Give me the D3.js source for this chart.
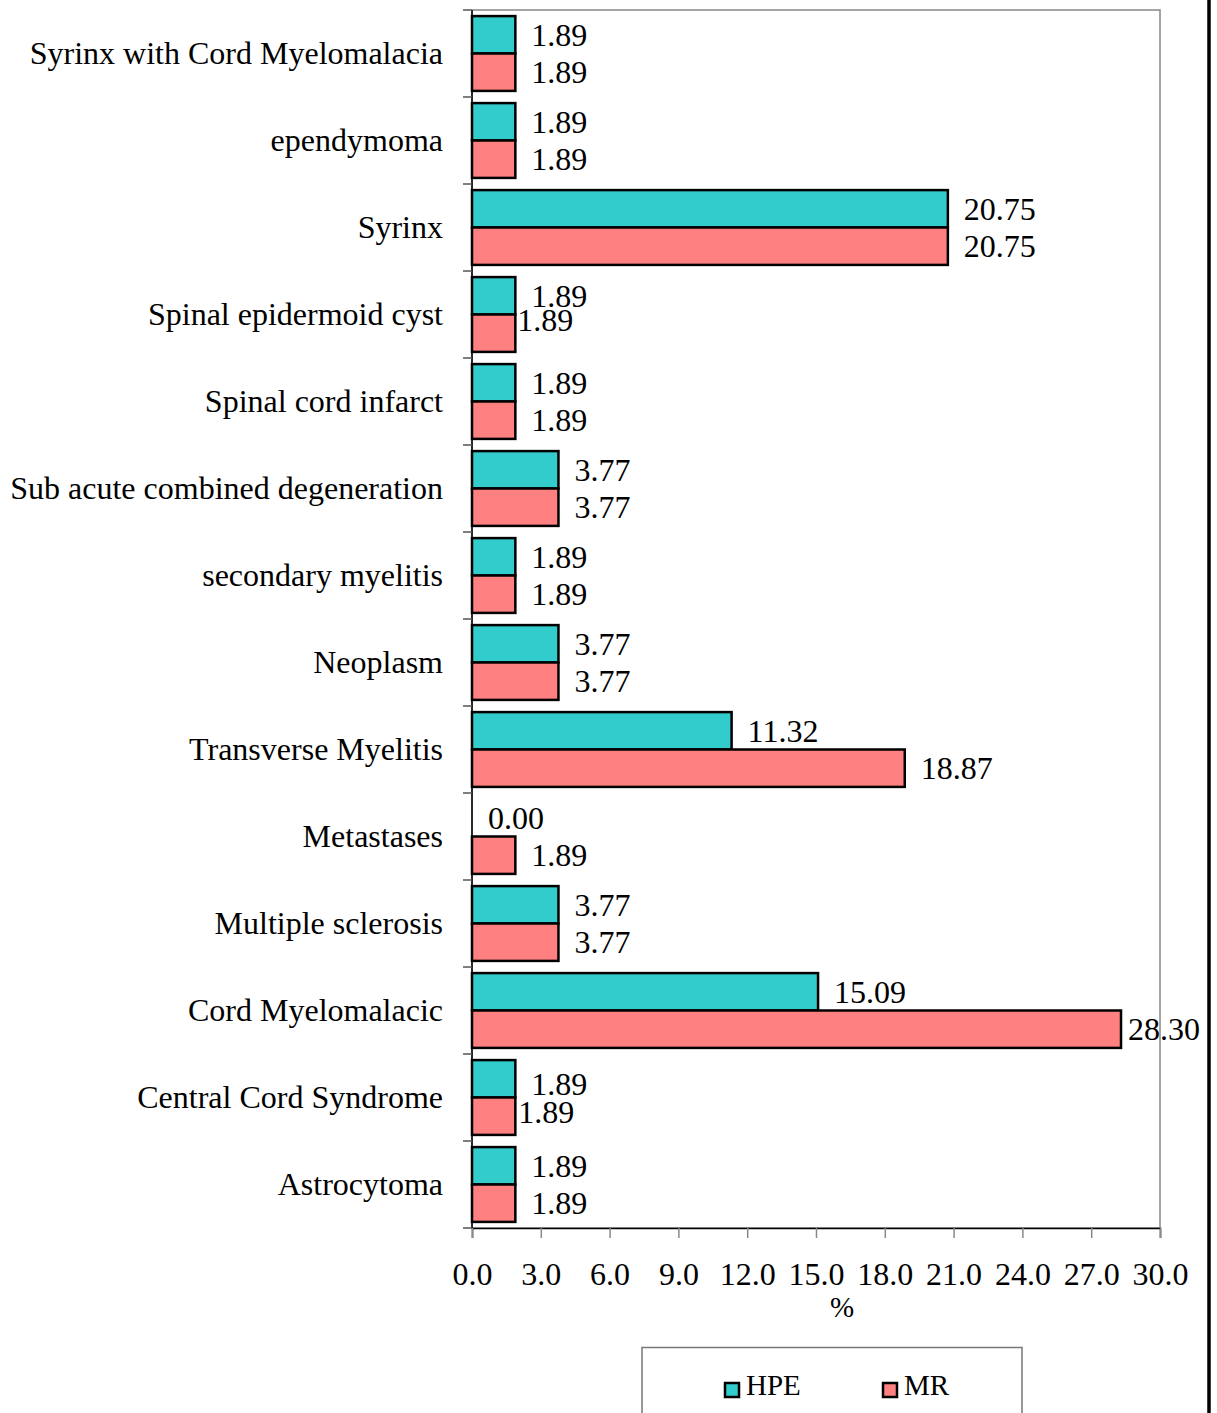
<!DOCTYPE html>
<html><head><meta charset="utf-8">
<script src="https://cdn.jsdelivr.net/npm/d3@7"></script>
<style>html,body{margin:0;padding:0;background:#fff;}svg{display:block;}</style>
</head><body>
<script>
const categories = ["Syrinx with Cord Myelomalacia","ependymoma","Syrinx","Spinal epidermoid cyst","Spinal cord infarct","Sub acute combined degeneration","secondary myelitis","Neoplasm","Transverse Myelitis","Metastases","Multiple sclerosis","Cord Myelomalacic","Central Cord Syndrome","Astrocytoma"];
const hpe = [1.89,1.89,20.75,1.89,1.89,3.77,1.89,3.77,11.32,0.00,3.77,15.09,1.89,1.89];
const mr  = [1.89,1.89,20.75,1.89,1.89,3.77,1.89,3.77,18.87,1.89,3.77,28.30,1.89,1.89];
const seriesNames = ["HPE","MR"];
const seriesColors = ["#33CCCC","#FF8080"];
const xTicks = [0,3,6,9,12,15,18,21,24,27,30];
// manual label nudges (category index, series index, dx, dy)
const labelNudges = [[3,1,-14,-13],[12,0,0,5],[12,1,-13,-4],[11,1,-9,0]];

const W=1217,H=1413;
const margin={left:472,right:57,top:10,bottom:185};
const FONT="'Liberation Serif','Times New Roman',serif";
const svg=d3.select("body").append("svg").attr("width",W).attr("height",H)
  .style("font-family",FONT);

const x=d3.scaleLinear().domain([0,30]).range([margin.left,W-margin.right]);
const y=d3.scaleBand().domain(categories).range([margin.top,H-margin.bottom]).paddingInner(0.14).paddingOuter(0.07);
const ySub=d3.scaleBand().domain(seriesNames).range([0,y.bandwidth()]);
const step=y.step();

// plot border
svg.append("rect").attr("x",x(0)).attr("y",margin.top).attr("width",x(30)-x(0)).attr("height",H-margin.bottom-margin.top)
  .attr("fill","none").attr("stroke","#888").attr("stroke-width",1.5);

// bars
const data=[];
categories.forEach((c,i)=>{[hpe,mr].forEach((arr,s)=>data.push({c,i,s,v:arr[i]}));});
svg.selectAll("rect.bar").data(data.filter(d=>d.v>0)).join("rect").attr("class","bar")
  .attr("x",x(0)).attr("y",d=>y(d.c)+ySub(seriesNames[d.s]))
  .attr("width",d=>x(d.v)-x(0)).attr("height",ySub.bandwidth())
  .attr("fill",d=>seriesColors[d.s]).attr("stroke","#000").attr("stroke-width",2.5);

// value labels
svg.selectAll("text.val").data(data).join("text").attr("class","val")
  .attr("x",d=>{const n=labelNudges.find(a=>a[0]===d.i&&a[1]===d.s);return x(d.v)+16+(n?n[2]:0);})
  .attr("y",d=>{const n=labelNudges.find(a=>a[0]===d.i&&a[1]===d.s);return y(d.c)+ySub(seriesNames[d.s])+ySub.bandwidth()/2+(n?n[3]:0);})
  .attr("dy","0.34em").attr("font-size",32).attr("fill","#000")
  .text(d=>d.v.toFixed(2));

// y axis
const yAxisG=svg.append("g");
yAxisG.append("line").attr("x1",x(0)).attr("x2",x(0)).attr("y1",margin.top).attr("y2",H-margin.bottom).attr("stroke","#000").attr("stroke-width",1.5);
d3.range(categories.length+1).forEach(k=>{
  const yy=margin.top+k*step;
  yAxisG.append("line").attr("x1",x(0)-9).attr("x2",x(0)).attr("y1",yy).attr("y2",yy).attr("stroke","#555").attr("stroke-width",1.5);
});
svg.selectAll("text.cat").data(categories).join("text").attr("class","cat")
  .attr("x",x(0)-29).attr("y",d=>margin.top+categories.indexOf(d)*step+step/2)
  .attr("dy","0.34em").attr("text-anchor","end").attr("font-size",32).attr("fill","#000").text(d=>d);

// x axis
const xb=H-margin.bottom;
const xAxis=d3.axisBottom(x).tickValues(xTicks).tickSize(10).tickPadding(24).tickFormat(d3.format(".1f"));
const xg=svg.append("g").attr("transform",`translate(0,${xb})`).call(xAxis);
xg.select(".domain").attr("stroke","#000").attr("stroke-width",1.5);
xg.selectAll(".tick line").attr("stroke","#888").attr("stroke-width",1.5);
xg.selectAll(".tick text").attr("font-size",32).attr("font-family",FONT).attr("fill","#000");
svg.append("text").attr("x",842).attr("y",1317).attr("text-anchor","middle").attr("font-size",29).text("%");

// right frame line
svg.append("line").attr("x1",1209).attr("x2",1209).attr("y1",0).attr("y2",H).attr("stroke","#000").attr("stroke-width",3.5);

// legend
svg.append("rect").attr("x",642).attr("y",1347.5).attr("width",380).attr("height",80).attr("fill","none").attr("stroke","#777").attr("stroke-width",1.5);
const legX=[725,883];
seriesNames.forEach((n,s)=>{
  svg.append("rect").attr("x",legX[s]).attr("y",1383).attr("width",14).attr("height",14).attr("fill",seriesColors[s]).attr("stroke","#000").attr("stroke-width",2.5);
  svg.append("text").attr("x",legX[s]+21).attr("y",1395).attr("font-size",29).attr("fill","#000").text(n);
});
</script>
</body></html>
